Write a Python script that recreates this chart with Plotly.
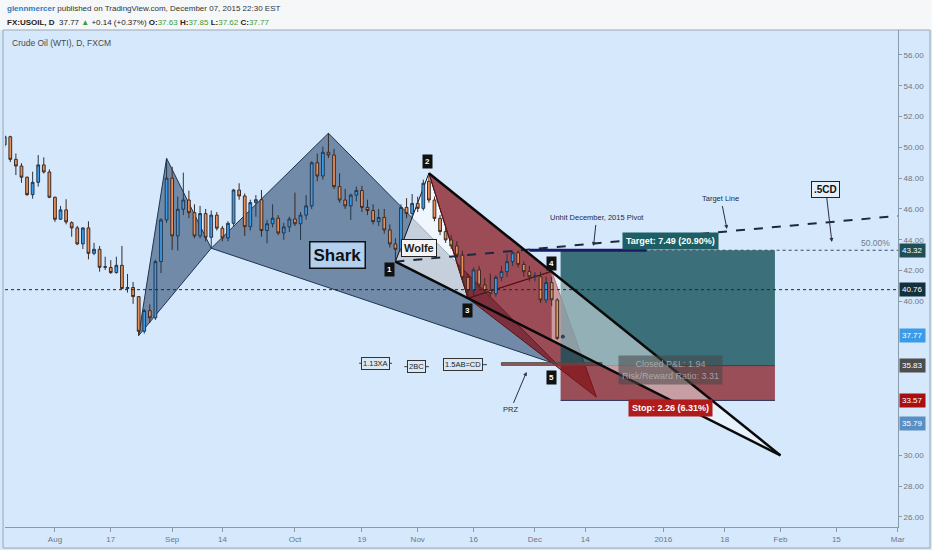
import numpy as np
import plotly.graph_objects as go

# daily candles, FX:USOIL
dates = ["2015-07-21", "2015-07-22", "2015-07-23", "2015-07-24", "2015-07-27", "2015-07-28", "2015-07-29",
         "2015-07-30", "2015-07-31", "2015-08-03", "2015-08-04", "2015-08-05", "2015-08-06", "2015-08-07",
         "2015-08-10", "2015-08-11", "2015-08-12", "2015-08-13", "2015-08-14", "2015-08-17", "2015-08-18",
         "2015-08-19", "2015-08-20", "2015-08-21", "2015-08-24", "2015-08-25", "2015-08-26", "2015-08-27",
         "2015-08-28", "2015-08-31", "2015-09-01", "2015-09-02", "2015-09-03", "2015-09-04", "2015-09-07",
         "2015-09-08", "2015-09-09", "2015-09-10", "2015-09-11", "2015-09-14", "2015-09-15", "2015-09-16",
         "2015-09-17", "2015-09-18", "2015-09-21", "2015-09-22", "2015-09-23", "2015-09-24", "2015-09-25",
         "2015-09-28", "2015-09-29", "2015-09-30", "2015-10-01", "2015-10-02", "2015-10-05", "2015-10-06",
         "2015-10-07", "2015-10-08", "2015-10-09", "2015-10-12", "2015-10-13", "2015-10-14", "2015-10-15",
         "2015-10-16", "2015-10-19", "2015-10-20", "2015-10-21", "2015-10-22", "2015-10-23", "2015-10-26",
         "2015-10-27", "2015-10-28", "2015-10-29", "2015-10-30", "2015-11-02", "2015-11-03", "2015-11-04",
         "2015-11-05", "2015-11-06", "2015-11-09", "2015-11-10", "2015-11-11", "2015-11-12", "2015-11-13",
         "2015-11-16", "2015-11-17", "2015-11-18", "2015-11-19", "2015-11-20", "2015-11-23", "2015-11-24",
         "2015-11-25", "2015-11-26", "2015-11-27", "2015-11-30", "2015-12-01", "2015-12-02", "2015-12-03",
         "2015-12-04", "2015-12-07", "2015-12-08"]
opens = [50.16, 50.69, 49.22, 48.79, 48.06, 46.93, 47.73, 48.86, 48.40, 46.76, 45.33, 45.94, 45.11, 44.77,
         43.73, 44.77, 43.12, 43.38, 42.21, 42.20, 41.87, 42.34, 40.83, 40.90, 40.31, 38.06, 39.40, 38.93,
         42.58, 45.29, 48.00, 44.25, 45.98, 46.58, 45.76, 44.25, 45.70, 44.16, 45.60, 44.75, 44.12, 45.07,
         47.23, 46.84, 44.85, 46.41, 46.60, 44.60, 45.04, 45.40, 44.44, 44.83, 45.35, 45.04, 45.60, 46.20,
         49.00, 48.14, 49.68, 49.50, 47.45, 46.58, 46.20, 46.90, 47.20, 46.10, 45.90, 45.18, 45.45, 44.64,
         43.73, 43.38, 46.10, 45.70, 46.36, 46.04, 47.80, 46.58, 45.39, 44.53, 43.99, 43.60, 43.00, 41.56,
         40.70, 42.04, 41.06, 40.70, 40.50, 41.56, 41.93, 42.58, 43.16, 42.40, 41.93, 41.60, 41.60, 40.09,
         41.22, 40.09, 37.63]
highs = [50.80, 50.75, 49.60, 48.97, 48.10, 48.42, 49.50, 49.35, 48.57, 46.80, 46.20, 46.63, 45.20, 44.90,
         44.80, 45.20, 43.80, 43.60, 42.90, 42.68, 42.90, 43.60, 41.78, 41.26, 40.35, 39.50, 39.80, 42.70,
         45.40, 49.29, 48.75, 46.80, 48.36, 47.19, 46.30, 46.20, 46.00, 45.90, 45.80, 44.90, 45.20, 47.30,
         47.67, 47.00, 46.60, 46.90, 47.23, 45.30, 46.30, 45.60, 45.10, 45.50, 47.06, 45.80, 46.90, 49.10,
         49.60, 50.05, 50.92, 49.90, 48.32, 47.30, 47.00, 47.45, 47.50, 46.60, 46.30, 46.00, 46.00, 45.00,
         44.10, 46.30, 46.70, 46.97, 46.80, 47.90, 48.32, 46.80, 45.60, 44.80, 44.30, 43.90, 43.30, 41.80,
         42.20, 42.30, 41.50, 41.80, 41.70, 42.30, 43.10, 43.30, 43.30, 42.60, 42.30, 41.90, 41.93, 41.60,
         41.60, 40.20, 37.85]
lows = [50.00, 49.05, 48.20, 47.70, 46.85, 46.67, 47.45, 48.30, 46.70, 45.16, 45.30, 45.00, 44.20, 43.65,
        43.40, 42.73, 43.00, 41.93, 42.04, 41.78, 41.80, 40.80, 40.57, 39.84, 37.78, 37.90, 38.60, 38.80,
        41.84, 45.10, 43.34, 43.30, 45.60, 45.40, 44.10, 44.10, 43.90, 43.45, 44.60, 43.90, 43.90, 44.90,
        46.60, 44.25, 44.60, 45.50, 44.20, 43.77, 44.80, 44.30, 44.00, 44.50, 44.90, 43.99, 45.30, 46.00,
        47.80, 47.90, 49.30, 47.30, 46.40, 46.00, 45.29, 46.50, 45.80, 45.60, 45.00, 44.90, 44.40, 43.50,
        42.58, 43.20, 45.40, 45.40, 45.80, 45.90, 46.40, 45.20, 44.30, 43.80, 43.40, 42.80, 41.40, 40.20,
        40.30, 40.90, 40.50, 40.30, 40.30, 41.30, 41.60, 42.30, 42.20, 41.60, 41.30, 41.30, 39.90, 39.90,
        39.70, 37.50, 37.62]
closes = [50.69, 49.22, 48.79, 48.06, 46.93, 47.73, 48.86, 48.40, 46.76, 45.33, 45.94, 45.16, 44.77, 43.73,
          44.77, 43.12, 43.38, 42.21, 42.25, 41.87, 42.34, 40.83, 40.90, 40.31, 38.06, 39.40, 38.93, 42.58,
          45.29, 48.00, 44.25, 45.98, 46.58, 45.76, 44.25, 45.70, 44.16, 45.60, 44.75, 44.12, 45.07, 47.23,
          46.84, 44.85, 46.41, 46.60, 44.60, 45.04, 45.40, 44.44, 44.83, 45.35, 45.04, 45.60, 46.20, 49.00,
          48.14, 49.68, 49.50, 47.45, 46.58, 46.20, 46.90, 47.20, 46.10, 45.90, 45.18, 45.45, 44.64, 43.73,
          43.38, 46.10, 45.70, 46.36, 46.04, 47.67, 46.58, 45.39, 44.53, 43.99, 43.60, 43.00, 41.56, 40.70,
          42.04, 41.06, 40.70, 40.50, 41.56, 41.93, 42.58, 43.16, 42.40, 41.93, 41.60, 41.65, 40.09, 41.22,
          40.10, 37.60, 37.77]

# time axis labels (TradingView style, trading days only)
tick_dates = ["2015-08-03", "2015-08-17", "2015-09-01", "2015-09-14", "2015-10-01", "2015-10-19",
              "2015-11-02", "2015-11-16", "2015-12-01", "2015-12-14", "2016-01-01", "2016-01-18",
              "2016-02-01", "2016-02-15", "2016-03-01"]
tick_text = ["Aug", "17", "Sep", "14", "Oct", "19", "Nov", "16", "Dec", "14", "2016", "18", "Feb", "15", "Mar"]
# price ticks left visible (the rest sit under the price tags)
price_ticks = [26, 28, 30, 40, 42, 44, 46, 48, 50, 52, 54, 56]

# drawings: shark X, A, B, C, D
shark_dates = ["2015-08-24", "2015-08-31", "2015-09-10", "2015-10-09", "2015-12-07"]
shark_prices = [37.78, 49.29, 43.45, 50.92, 35.90]
# wolfe wave 1, 2, 3, 4, 5 (target), apex
wolfe_dates = ["2015-10-27", "2015-11-04", "2015-11-13", "2015-12-04", "2015-12-16", "2016-02-01"]
wolfe_prices = [42.58, 48.32, 40.20, 41.95, 33.79, 30.00]
# long position
pos_dates = ["2015-12-08", "2016-01-29"]
entry_price, target_price, stop_price = 35.83, 43.32, 33.57
prz_dates = ["2015-11-23", "2015-12-17"]
prz_prices = [35.85, 36.02]
pivot_dates = ["2015-11-30", "2015-12-29"]
pivot_price = 43.32
hline_price = 40.76
target_line_dates = ["2015-10-27", "2016-03-01"]
target_line_prices = [42.58, 45.55]

# right axis price tags: (price, text, colour)
tags = [(43.32, "43.32", "#1f4f55"), (40.76, "40.76", "#13303d"), (37.77, "37.77", "#3c9be8"),
        (35.83, "35.83", "#4d4d4d"), (33.57, "33.57", "#a81010"), (32.04, "35.79", "#5a8fc5")]

START = "2015-07-21"


def bd(d):
    return int(np.busday_count(START, d))


x = [bd(d) for d in dates]
sx = [bd(d) for d in shark_dates]
wx = [bd(d) for d in wolfe_dates]

FONT = "Liberation Sans, Arial"
BG = "#d6e8fb"
shapes = []


def poly(xs, ys, fill, line="rgba(0,0,0,0)", lw=1, layer="below"):
    path = "M " + " L ".join(f"{a},{b}" for a, b in zip(xs, ys)) + " Z"
    shapes.append(dict(type="path", path=path, xref="x", yref="y", fillcolor=fill,
                       line=dict(color=line, width=lw), layer=layer))


def seg(x0, y0, x1, y1, color, lw=1, dash="solid", layer="above"):
    shapes.append(dict(type="line", x0=x0, y0=y0, x1=x1, y1=y1, xref="x", yref="y",
                       line=dict(color=color, width=lw, dash=dash), layer=layer))


# shark
poly(sx[0:3], shark_prices[0:3], "rgba(30,60,100,0.55)", "#1d3550")
poly(sx[2:5], shark_prices[2:5], "rgba(30,60,100,0.55)", "#1d3550")
# wolfe
poly(wx[0:3], wolfe_prices[0:3], "rgba(255,255,255,0.6)", "#111111")
poly(wx[1:4], wolfe_prices[1:4], "rgba(130,10,15,0.7)", "#5a1010")
poly(wx[2:5], wolfe_prices[2:5], "rgba(130,10,15,0.7)", "#5a1010")

# position box
p0, p1 = bd(pos_dates[0]) - 0.4, bd(pos_dates[1])
poly([p0, p1, p1, p0], [entry_price, entry_price, target_price, target_price], "rgba(20,80,90,0.8)")
poly([p0, p1, p1, p0], [stop_price, stop_price, entry_price, entry_price], "rgba(130,20,25,0.72)")
seg(p0, entry_price, p1, entry_price, "#3a3f48", 1, layer="below")
seg(p0, stop_price, p1, stop_price, "#2a2f55", 1, layer="below")

# wolfe apex wedge
q = wolfe_prices[0] + (wx[3] - wx[0]) / (wx[5] - wx[0]) * (wolfe_prices[5] - wolfe_prices[0])
poly([wx[3], wx[5], wx[3]], [wolfe_prices[3], wolfe_prices[5], q], "rgba(255,255,255,0.45)")

# PRZ bar
poly([bd(prz_dates[0]), bd(prz_dates[1]), bd(prz_dates[1]), bd(prz_dates[0])],
     [prz_prices[0], prz_prices[0], prz_prices[1], prz_prices[1]], "rgba(150,50,50,0.8)", "#4a4a4a")

# lines
XMIN, XMAX = 0.05, 160.05
seg(XMIN, hline_price, XMAX, hline_price, "#1a2838", 1, "dot")
seg(p0, target_price, XMAX, target_price, "#394a5f", 1.2, "dot")
seg(bd(pivot_dates[0]), pivot_price, bd(pivot_dates[1]), pivot_price, "#1a1a66", 3)
seg(bd(target_line_dates[0]), target_line_prices[0], bd(target_line_dates[1]), target_line_prices[1],
    "#1c2a40", 2, "dash")
seg(wx[0], wolfe_prices[0], wx[5], wolfe_prices[5], "#0a0a0a", 2.5)
seg(wx[1], wolfe_prices[1], wx[5], wolfe_prices[5], "#0a0a0a", 2.5)

# ratio label side lines
for a, b, p in [(63.5, 69.4, 35.98), (71.6, 76.0, 35.76), (78.5, 86.4, 35.89)]:
    seg(a, p, b, p, "#3a3a3a", 1)

# header and pane frame (paper coordinates)
shapes.append(dict(type="rect", xref="paper", yref="paper", x0=-0.01, x1=1.05, y0=1.0, y1=1.07,
                   fillcolor="#f6f7f9", line=dict(width=0), layer="below"))
shapes.append(dict(type="rect", xref="paper", yref="paper", x0=-0.0022, x1=1.0358, y0=-0.0423, y1=1.0,
                   fillcolor="rgba(0,0,0,0)", line=dict(color="#9aa8b5", width=1), layer="above"))

fig = go.Figure()
fig.add_trace(go.Candlestick(
    x=x, open=opens, high=highs, low=lows, close=closes,
    increasing=dict(fillcolor="#3d9be9", line=dict(color="#24364a", width=1)),
    decreasing=dict(fillcolor="#e8915c", line=dict(color="#3c2a22", width=1)),
    whiskerwidth=0, showlegend=False, hoverinfo="skip"))

ann = []


def lab(xv, yv, text, size=9, color="#222", bg=None, border=None, bw=1, pad=1, bold=False, **kw):
    d = dict(x=xv, y=yv, xref="x", yref="y", text=f"<b>{text}</b>" if bold else text, showarrow=False,
             font=dict(family=FONT, size=size, color=color), borderpad=pad)
    if bg:
        d["bgcolor"] = bg
    if border:
        d["bordercolor"] = border
        d["borderwidth"] = bw
    d.update(kw)
    ann.append(d)


lab(59.6, 43.0, "Shark", 17, "#111", "#b3d0ee", "#111", 1.5, 3, True)
lab(74.2, 43.47, "Wolfe", 11, "#222", "#f4f4f4", "#222", 1, 2, True)
for t, xv, yv in [("1", 68.9, 42.04), ("2", 75.8, 49.05), ("3", 83.0, 39.44), ("4", 98.0, 42.49),
                  ("5", 98.0, 35.03)]:
    lab(xv, yv, t, 8, "white", "#111", None, 0, 2, True)
lab(66.5, 35.98, "1.13XA", 7.5, "#222", "#dbe7f3", "#333")
lab(73.7, 35.76, "2BC", 7.5, "#222", "#dbe7f3", "#333")
lab(82.1, 35.89, "1.5AB=CD", 7.5, "#222", "#dbe7f3", "#333")
lab(156.1, 43.79, "50.00%", 8.5, "#6a7f96")

lab(119.3, 43.92, "Target: 7.49 (20.90%)", 9, "white", "#1e5f66", None, 0, 3, True)
lab(119.3, 35.55, "Closed P&L: 1.94<br>Risk/Reward Ratio: 3.31", 9, "rgba(190,190,190,0.75)",
    "rgba(70,70,70,0.55)", None, 0, 3)
lab(119.3, 33.08, "Stop: 2.26 (6.31%)", 9, "white", "#b01c1c", None, 0, 3, True)


def arrow(xv, yv, text, ax, ay, size=7.5, color="#1f2a44", bg=None, border=None, bold=False):
    d = dict(x=xv, y=yv, xref="x", yref="y", text=f"<b>{text}</b>" if bold else text, showarrow=True,
             ax=ax, ay=ay, arrowhead=2, arrowsize=0.8, arrowwidth=1, arrowcolor="#2a3040",
             font=dict(family=FONT, size=size, color=color), borderpad=2)
    if bg:
        d["bgcolor"] = bg
    if border:
        d["bordercolor"] = border
        d["borderwidth"] = 1
    ann.append(d)


arrow(93.5, 35.42, "PRZ", -16, 38)
arrow(105.5, 43.6, "Unhit December, 2015 Pivot", 3, -28)
arrow(129.4, 44.7, "Target Line", -6, -30)
arrow(148.2, 43.86, ".5CD", -6, -52, 10, "#111", "#e6eef7", "#222", True)

for p, t, c in tags:
    ann.append(dict(x=1, y=p, xref="paper", yref="y", text=t, showarrow=False, xanchor="left",
                    xshift=1, font=dict(family=FONT, size=8, color="white"), bgcolor=c, borderpad=2))

GREEN = "#3b9c3b"
ann.append(dict(x=0, y=1.0423, xref="paper", yref="paper", xanchor="left", yanchor="middle", showarrow=False,
                text="<span style='color:#2a7bbf'><b>glennmercer</b></span> published on TradingView.com, "
                     "December 07, 2015 22:30 EST",
                font=dict(family=FONT, size=8, color="#333")))
ann.append(dict(x=0, y=1.0141, xref="paper", yref="paper", xanchor="left", yanchor="middle", showarrow=False,
                text=f"<b>FX:USOIL, D</b>  37.77 <span style='color:{GREEN}'>▲</span> +0.14 (+0.37%) "
                     f"<b>O:</b><span style='color:{GREEN}'>37.63</span> <b>H:</b><span style='color:{GREEN}'>37.85</span> "
                     f"<b>L:</b><span style='color:{GREEN}'>37.62</span> <b>C:</b><span style='color:{GREEN}'>37.77</span>",
                font=dict(family=FONT, size=8, color="#222")))
ann.append(dict(x=0.0056, y=0.974, xref="paper", yref="paper", xanchor="left", yanchor="middle", showarrow=False,
                text="Crude Oil (WTI), D, FXCM", font=dict(family=FONT, size=8.5, color="#4a4a4a")))

fig.update_layout(
    width=932, height=550, margin=dict(l=5, r=34, t=30, b=23),
    paper_bgcolor=BG, plot_bgcolor=BG, showlegend=False,
    shapes=shapes, annotations=ann,
    xaxis=dict(range=[XMIN, XMAX], tickvals=[bd(d) for d in tick_dates], ticktext=tick_text,
               showgrid=False, zeroline=False, showline=True, linecolor="#8a9aa8", ticks="outside",
               ticklen=4, tickcolor="#8a9aa8", tickfont=dict(family=FONT, size=8, color="#6b7785"),
               rangeslider=dict(visible=False), fixedrange=True),
    yaxis=dict(range=[25.35, 57.62], side="right", tickvals=price_ticks, tickformat=".2f",
               showgrid=False, zeroline=False, showline=True, linecolor="#8a9aa8", ticks="outside",
               ticklen=3, tickcolor="#8a9aa8", tickfont=dict(family=FONT, size=8, color="#6b7785"),
               fixedrange=True),
)

fig.write_html("out.html", config={"displayModeBar": False},
               post_script="document.body.style.margin='0';")
